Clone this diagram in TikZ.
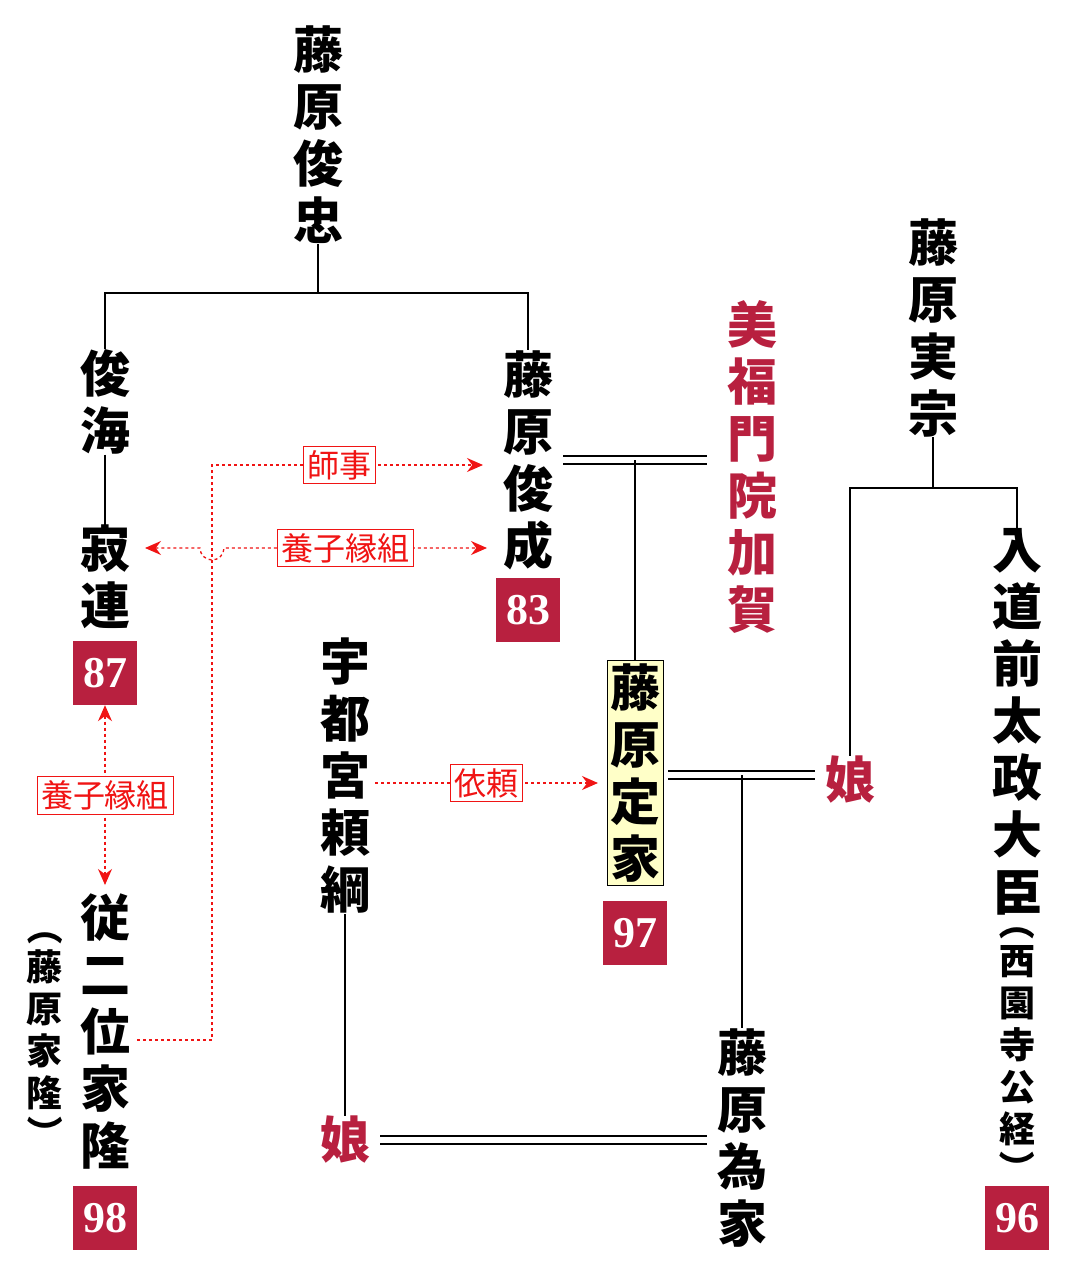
\documentclass[tikz,border=0pt]{standalone}
\usepackage{fontspec}
\newfontfamily\jp{Noto Sans CJK JP}
\newfontfamily\numfont{Liberation Serif}
\usetikzlibrary{arrows.meta,positioning}
\definecolor{kcrimson}{RGB}{184,32,63}
\definecolor{kred}{RGB}{240,20,20}
\definecolor{kcream}{RGB}{255,255,200}
\tikzstyle{vt} = [align=center, inner sep=0pt, font=\jp\bfseries\fontsize{50}{57}\selectfont]
\tikzstyle{vsmall} = [align=center, inner sep=0pt, font=\jp\bfseries\fontsize{36}{42}\selectfont]
\tikzstyle{paren} = [inner sep=0pt, rotate=-90, font=\jp\bfseries\fontsize{36}{42}\selectfont]
\tikzstyle{num} = [fill=kcrimson, text=white, minimum size=64pt, inner sep=0pt, font=\numfont\bfseries\fontsize{44}{44}\selectfont]
\tikzstyle{tag} = [draw=kred, solid, thick, fill=white, text=kred, inner sep=4pt, font=\jp\fontsize{32}{32}\selectfont]
\tikzstyle{dashy} = [kred, dashed, line width=1.3pt, >={Stealth[length=16pt,width=14pt]}]
\tikzstyle{kin} = [line width=1.4pt, black]
\begin{document}
\begin{tikzpicture}[x=1pt, y=-1pt]
\useasboundingbox (0,0) rectangle (1075,1280);
% People
\node[vt] (toshitada) at (318,135) {藤\\原\\俊\\忠};
\node[vt] (shunkai) at (105,402) {俊\\海};
\node[vt] (jakuren) at (105,577) {寂\\連};
\node[num] (n87) at (105,673) {87};
\node[vt] (shunzei) at (528,460) {藤\\原\\俊\\成};
\node[num] (n83) at (528,610) {83};
\node[vt, text=kcrimson] (kaga) at (752,467) {美\\福\\門\\院\\加\\賀};
\node[vt] (sanemune) at (933,328) {藤\\原\\実\\宗};
\node[vt] (kintsune) at (1017,722) {入\\道\\前\\太\\政\\大\\臣};
\node[vsmall] (saionji) at (1017,1046) {西\\園\\寺\\公\\経};
\node[paren] (sp1) at (1017,922) {（};
\node[paren] (sp2) at (1017,1168) {）};
\node[num] (n96) at (1017,1218) {96};
\node[vt, draw=black, fill=kcream, inner sep=3pt] (teika) at (635,773) {藤\\原\\定\\家};
\node[num] (n97) at (635,933) {97};
\node[vt] (yoritsuna) at (345,776) {宇\\都\\宮\\頼\\綱};
\node[vt, text=kcrimson] (musume1) at (850,780) {娘};
\node[vt, text=kcrimson] (musume2) at (345,1140) {娘};
\node[vt] (tameie) at (742,1138) {藤\\原\\為\\家};
\node[vt] (ietaka) at (105,1032) {従\\二\\位\\家\\隆};
\node[vsmall] (ietaka2) at (45,1030) {藤\\原\\家\\隆};
\node[paren] (ip1) at (45,927) {（};
\node[paren] (ip2) at (45,1133) {）};
\node[num] (n98) at (105,1218) {98};

% Kinship lines
\draw[kin] (toshitada) -- (318,293) -| (shunkai);
\draw[kin] (318,293) -| (shunzei);
\draw[kin] (shunkai) -- (jakuren);
\draw[kin] (563,456) -- (707,456) (563,464) -- (707,464);
\draw[kin] (635,460) -- (teika);
\draw[kin] (sanemune) -- (933,488) -| (musume1);
\draw[kin] (933,488) -| (kintsune);
\draw[kin] (668,771) -- (815,771) (668,779) -- (815,779);
\draw[kin] (742,775) -- (tameie);
\draw[kin] (yoritsuna) -- (musume2);
\draw[kin] (380,1136) -- (707,1136) (380,1144) -- (707,1144);

% Requests and adoptions
\draw[dashy, ->] (375,783) -- (598,783) node[tag, midway] {依頼};
\draw[dashy, ->] (137,1040) -| (212,465) -- (483,465) node[tag, pos=0.47] {師事};
\draw[dashy, <->] (145,548) -- (200,548) arc (180:0:12) -- (487,548);
\node[tag] at (345,548) {養子縁組};
\draw[dashy, <->] (n87) -- (105,885) node[tag, midway] {養子縁組};
\end{tikzpicture}
\end{document}
